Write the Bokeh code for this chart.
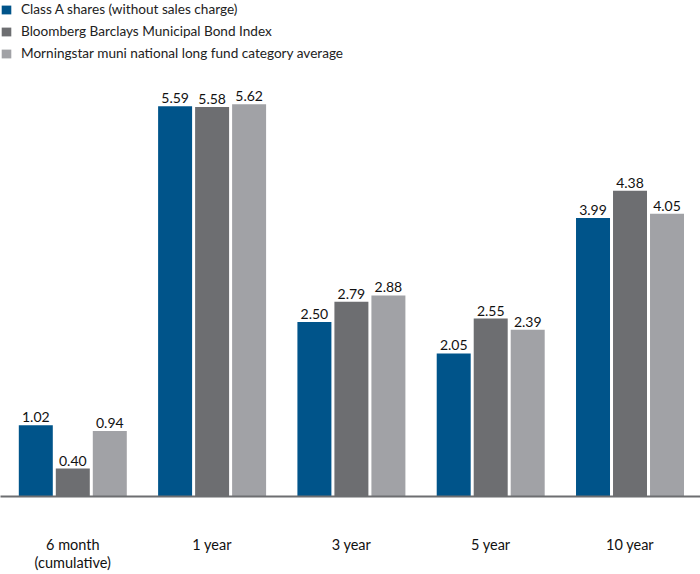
from bokeh.plotting import figure
from bokeh.models import ColumnDataSource, Range1d, FixedTicker, Legend, LegendItem
from bokeh.embed import file_html
from bokeh.resources import INLINE

categories = ["6 month\n(cumulative)", "1 year", "3 year", "5 year", "10 year"]
series_names = [
    "Class A shares (without sales charge)",
    "Bloomberg Barclays Municipal Bond Index",
    "Morningstar muni national long fund category average",
]
class_a = [1.02, 5.59, 2.50, 2.05, 3.99]
bloomberg = [0.40, 5.58, 2.79, 2.55, 4.38]
morningstar = [0.94, 5.62, 2.88, 2.39, 4.05]
series_values = [class_a, bloomberg, morningstar]
colors = ["#00548a", "#6d6e71", "#a1a2a6"]

FONT = "Lato"

p = figure(width=700, height=574, output_backend="svg", toolbar_location=None,
           x_range=Range1d(-0.519, 4.506), y_range=Range1d(0, 7.106),
           y_axis_location=None, min_border_left=0, min_border_right=0,
           min_border_top=0, min_border_bottom=78)
p.outline_line_color = None
p.xgrid.visible = False
p.ygrid.visible = False
p.background_fill_color = "white"
p.border_fill_color = "white"

bar_w = 0.244
offsets = [-0.2656, 0.0, 0.2656]
items = []
idx = list(range(len(categories)))
for name, vals, off, col in zip(series_names, series_values, offsets, colors):
    src = ColumnDataSource(dict(x=[i + off for i in idx], top=vals,
                                label=["%.2f" % v for v in vals]))
    r = p.vbar(x="x", top="top", width=bar_w, bottom=0, source=src,
               fill_color=col, line_color=None)
    p.text(x="x", y="top", text="label", source=src, text_align="center",
           text_baseline="bottom", y_offset=-3, text_font_size="14px",
           text_color="#111111", text_font={"value": FONT})
    items.append(LegendItem(label=name, renderers=[r]))

legend = Legend(items=items, location="top_left", margin=0, padding=1,
                glyph_width=12, glyph_height=11, label_standoff=9,
                label_height=18, spacing=4, label_text_font=FONT,
                label_text_font_size="13.6px", label_text_color="#222222",
                border_line_color=None, background_fill_alpha=0)
p.add_layout(legend, "center")

ax = p.xaxis[0]
ax.ticker = FixedTicker(ticks=idx)
ax.major_label_overrides = {i: c for i, c in enumerate(categories)}
ax.major_tick_line_color = None
ax.minor_tick_line_color = None
ax.major_tick_out = 0
ax.major_tick_in = 0
ax.axis_line_color = "#6d6e71"
ax.axis_line_width = 2
ax.major_label_standoff = 39
ax.major_label_text_font = FONT
ax.major_label_text_font_size = "14.5px"
ax.major_label_text_line_height = 1.1
ax.major_label_text_color = "#111111"

open("out.html", "w").write(file_html(p, INLINE))
